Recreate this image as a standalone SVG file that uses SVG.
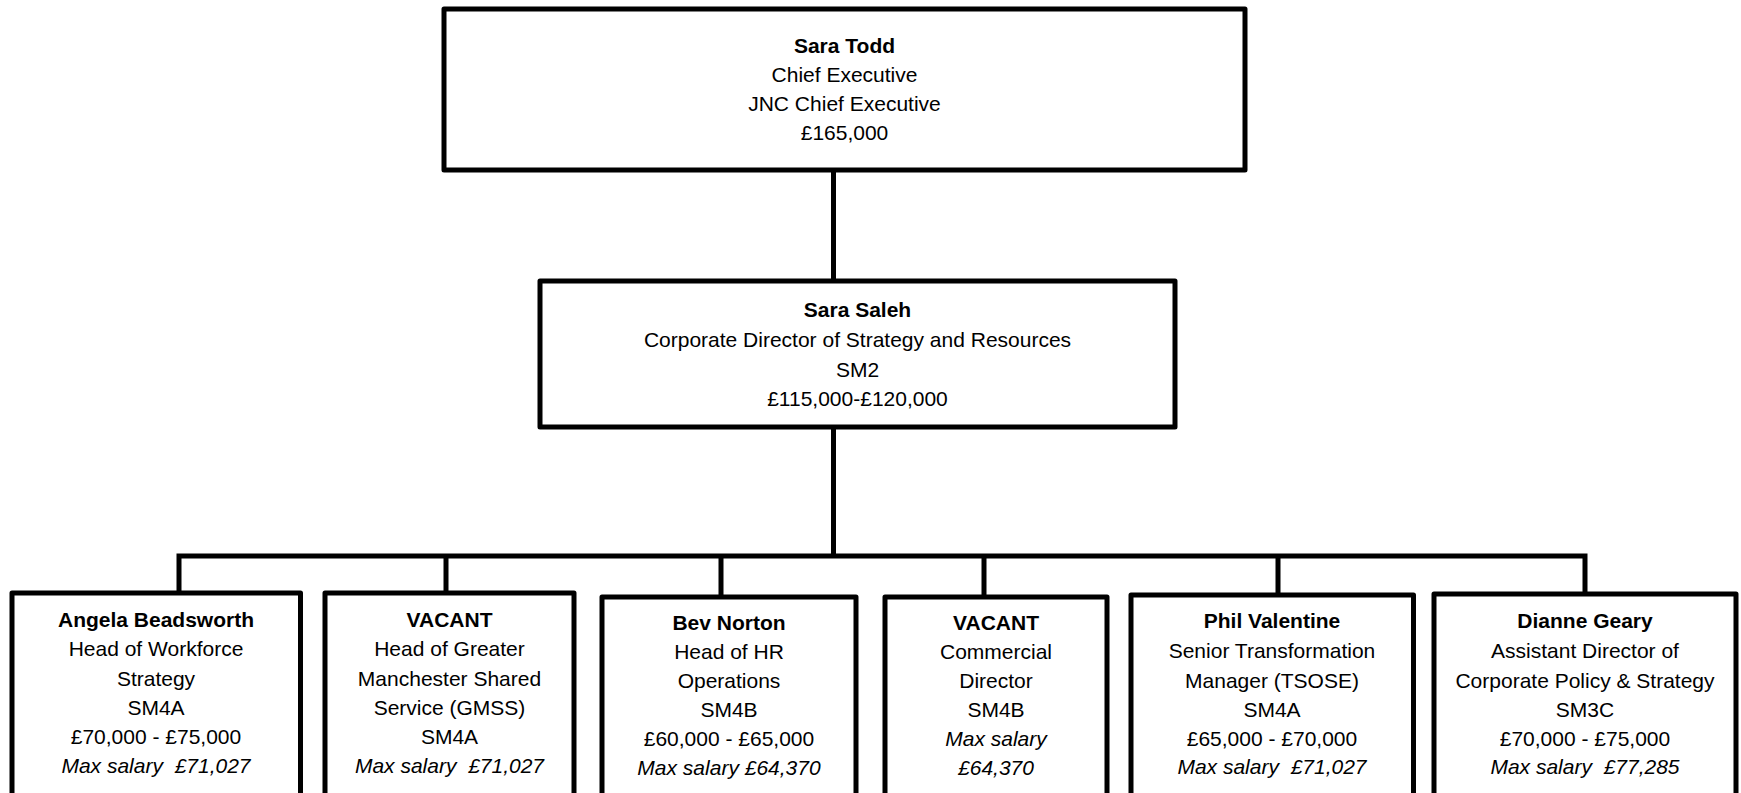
<svg xmlns="http://www.w3.org/2000/svg" width="1741" height="793" viewBox="0 0 1741 793">
<style>
.box{fill:#fff;stroke:#000;stroke-width:5;stroke-linejoin:round}
.con{fill:none;stroke:#000;stroke-width:5;stroke-linecap:square}
text{font-family:"Liberation Sans",Arial,sans-serif;font-size:21px;fill:#000;text-anchor:middle}
.b{font-weight:bold}
.i{font-style:italic;white-space:pre}
</style>
<rect width="1741" height="793" fill="#fff"/>
<g id="connectors">
<path class="con" d="M833.5 170V281M833.5 427V556M179 556H1585M179 556V593M446 556V595M721 556V597M984 556V597M1278 556V595M1585 556V594"/>
</g>
<g id="n-todd">
<rect class="box" x="444" y="9" width="801" height="161"/>
<text x="844.5" y="53" class="b">Sara Todd</text>
<text x="844.5" y="82">Chief Executive</text>
<text x="844.5" y="111">JNC Chief Executive</text>
<text x="844.5" y="140">£165,000</text>
</g>
<g id="n-saleh">
<rect class="box" x="540" y="281" width="635" height="146"/>
<text x="857.5" y="317" class="b">Sara Saleh</text>
<text x="857.5" y="347">Corporate Director of Strategy and Resources</text>
<text x="857.5" y="377">SM2</text>
<text x="857.5" y="406">£115,000-£120,000</text>
</g>
<g id="n-angela">
<rect class="box" x="12" y="593" width="288.5" height="230"/>
<text x="156" y="627" class="b">Angela Beadsworth</text>
<text x="156" y="656">Head of Workforce</text>
<text x="156" y="686">Strategy</text>
<text x="156" y="715">SM4A</text>
<text x="156" y="744">£70,000 - £75,000</text>
<text x="156" y="773" class="i">Max salary  £71,027</text>
</g>
<g id="n-gmss">
<rect class="box" x="325" y="593" width="249" height="230"/>
<text x="449.5" y="627" class="b">VACANT</text>
<text x="449.5" y="656">Head of Greater</text>
<text x="449.5" y="686">Manchester Shared</text>
<text x="449.5" y="715">Service (GMSS)</text>
<text x="449.5" y="744">SM4A</text>
<text x="449.5" y="773" class="i">Max salary  £71,027</text>
</g>
<g id="n-bev">
<rect class="box" x="602" y="597" width="254" height="230"/>
<text x="729" y="630" class="b">Bev Norton</text>
<text x="729" y="659">Head of HR</text>
<text x="729" y="688">Operations</text>
<text x="729" y="717">SM4B</text>
<text x="729" y="746">£60,000 - £65,000</text>
<text x="729" y="775" class="i">Max salary £64,370</text>
</g>
<g id="n-commercial">
<rect class="box" x="885" y="597" width="222" height="230"/>
<text x="996" y="630" class="b">VACANT</text>
<text x="996" y="659">Commercial</text>
<text x="996" y="688">Director</text>
<text x="996" y="717">SM4B</text>
<text x="996" y="746" class="i">Max salary</text>
<text x="996" y="775" class="i">£64,370</text>
</g>
<g id="n-phil">
<rect class="box" x="1131" y="595" width="282.5" height="230"/>
<text x="1272" y="628" class="b">Phil Valentine</text>
<text x="1272" y="658">Senior Transformation</text>
<text x="1272" y="688">Manager (TSOSE)</text>
<text x="1272" y="717">SM4A</text>
<text x="1272" y="746">£65,000 - £70,000</text>
<text x="1272" y="774" class="i">Max salary  £71,027</text>
</g>
<g id="n-dianne">
<rect class="box" x="1434" y="594" width="302" height="230"/>
<text x="1585" y="628" class="b">Dianne Geary</text>
<text x="1585" y="658">Assistant Director of</text>
<text x="1585" y="688">Corporate Policy &amp; Strategy</text>
<text x="1585" y="717">SM3C</text>
<text x="1585" y="746">£70,000 - £75,000</text>
<text x="1585" y="774" class="i">Max salary  £77,285</text>
</g>
</svg>
